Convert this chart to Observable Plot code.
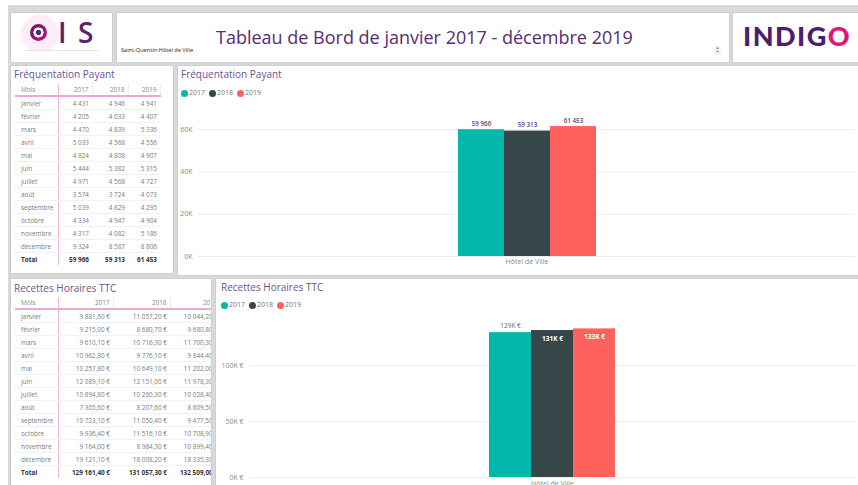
<!DOCTYPE html>
<html><head><meta charset="utf-8">
<script src="https://cdn.jsdelivr.net/npm/d3@7"></script>
<script src="https://cdn.jsdelivr.net/npm/@observablehq/plot@0.6"></script>
<style>
body{margin:0;width:858px;height:485px;overflow:hidden;background:#fff;font-family:"Open Sans",sans-serif;position:relative}
#bg{position:absolute;left:8px;top:5px;width:850px;height:480px;background:#d9d9d9}
.panel{position:absolute;background:#fff;border:1px solid #cfcfcf;box-sizing:border-box;overflow:hidden}
.ptitle{position:absolute;font-size:10px;line-height:14px;color:#6e5290;white-space:nowrap}
.legend{position:absolute;font-size:7px;line-height:10px;color:#777;white-space:nowrap;display:flex;align-items:center}
.legend span.dot{display:inline-block;width:7px;height:7px;border-radius:50%;margin-right:1px}
.legend span.lab{margin-right:4px}
table.t{border-collapse:collapse;position:absolute;font-size:6.4px;color:#7a7a7a;table-layout:fixed}
table.t td, table.t th{padding:0 3px;white-space:nowrap;overflow:hidden;font-weight:normal;text-align:right}
table.t th{height:11px;border-bottom:2px solid #eaa9d6;border-right:1px solid #ececec;color:#888}
table.t td{height:12px;border-bottom:1px solid #f1f1f1}
table.t .m{text-align:left;padding-left:6px;border-right:1px solid #efb4dd}
table.t tr.tot td{font-weight:bold;color:#333;border-bottom:none}
</style></head>
<body>
<div id="bg"></div>

<div class="panel" style="left:10px;top:12px;width:103px;height:51px">
  <div style="position:absolute;left:10px;top:1px;width:38px;height:42px;border-radius:50%;background:radial-gradient(circle at 50% 45%, rgba(230,0,126,0.07) 0 60%, rgba(255,255,255,0) 70%)"></div>
  <div style="position:absolute;left:13px;top:37px;width:75px;height:1px;background:#f6d9ea"></div>
  <div style="position:absolute;left:19px;top:11px;width:17px;height:17px;border-radius:50%;background:radial-gradient(circle, #5d2173 0 2.6px, #fff 2.9px 4.9px, rgba(0,0,0,0) 5.2px), linear-gradient(135deg,#5a1f73,#c4177d)"></div>
  <div style="position:absolute;left:47px;top:0px;font-size:28px;line-height:38px;font-weight:600;color:#5d2173;font-family:'Open Sans',sans-serif">I</div>
  <div style="position:absolute;left:67px;top:0px;font-size:28px;line-height:38px;font-weight:600;color:#5d2173;font-family:'Open Sans',sans-serif">S</div>
</div>

<div class="panel" style="left:116px;top:12px;width:614px;height:51px">
  <div style="position:absolute;left:4px;top:33px;font-size:5.6px;line-height:8px;color:#222">Saint-Quentin-Hôtel de Ville</div>
  <div id="maintitle" style="position:absolute;left:99px;top:12px;font-size:18px;line-height:25px;color:#5b2a72;white-space:nowrap">Tableau de Bord de janvier 2017 - décembre 2019</div>
  <div style="position:absolute;left:597px;top:33px;width:7px;height:9px;border-radius:2px;background:#f2f2f2;font-size:4px;line-height:4px;color:#888;text-align:center">▲<br>▼</div>
</div>

<div class="panel" style="left:732px;top:12px;width:130px;height:51px">
  <div style="position:absolute;left:10px;top:7px;font-size:27px;line-height:32px;font-weight:900;color:#4b1e6e;font-family:Lato,'Open Sans',sans-serif;letter-spacing:1.5px;white-space:nowrap">INDIG<span style="color:#e0157a">O</span></div>
</div>

<div class="panel" id="t1p" style="left:10px;top:65px;width:164px;height:209px">
  <div class="ptitle" style="left:3px;top:1px">Fréquentation Payant</div>
</div>

<div class="panel" id="c1p" style="left:177px;top:65px;width:685px;height:211px">
  <div class="ptitle" style="left:3px;top:1px">Fréquentation Payant</div>
  <div class="legend" id="leg1" style="left:3px;top:22px"></div>
  <div id="chart1" style="position:absolute;left:-1px;top:34px"></div>
</div>

<div class="panel" id="t2p" style="left:10px;top:278px;width:202px;height:212px">
  <div class="ptitle" style="left:3px;top:2px">Recettes Horaires TTC</div>
</div>

<div class="panel" id="c2p" style="left:215px;top:278px;width:647px;height:212px">
  <div class="ptitle" style="left:5px;top:1px">Recettes Horaires TTC</div>
  <div class="legend" id="leg2" style="left:5px;top:21px"></div>
  <div id="chart2" style="position:absolute;left:0px;top:33px"></div>
</div>

<script>
// ---------- data ----------
const years = ["2017", "2018", "2019"];
const colors = ["#01B8AA", "#374649", "#FD625E"];
const categories = ["Hôtel de Ville"];
const months = ["janvier","février","mars","avril","mai","juin","juillet","août","septembre","octobre","novembre","décembre"];

const freq2017 = [4431, 4205, 4470, 5033, 4824, 5444, 4971, 3574, 5039, 4334, 4317, 9324];
const freq2018 = [4946, 4033, 4839, 4568, 4808, 5382, 4568, 3724, 4829, 4947, 4082, 8587];
const freq2019 = [4941, 4407, 5336, 4556, 4907, 5315, 4727, 4073, 4295, 4904, 5186, 8806];
const freqTotals = [59966, 59313, 61453];

const rec2017 = [9881.60, 9215.00, 9610.10, 10962.80, 10257.80, 12089.10, 10894.80, 7305.60, 10723.10, 9936.40, 9164.00, 19121.10];
const rec2018 = [11057.20, 8680.70, 10716.30, 9776.10, 10649.10, 12151.00, 10260.30, 8207.60, 11050.40, 11516.10, 8984.30, 18008.20];
const rec2019 = [10044.20, 9680.80, 11700.30, 9844.40, 11202.00, 11978.30, 10028.40, 8609.50, 9477.50, 10708.90, 10899.40, 18335.30];
const recTotals = [129161.40, 131057.30, 132509.00];

const freqTicks = [0, 20000, 40000, 60000];
const recTicks = [0, 50000, 100000];

// ---------- formatting ----------
const fr = d3.formatLocale({decimal: ",", thousands: "\u00a0", grouping: [3], currency: ["", " €"]});
const fmtInt = fr.format(",d");
const fmt2 = fr.format(",.2f");
const fmtEur = v => fmt2(v) + "\u00a0€";

// ---------- tables ----------
function buildTable(parent, left, top, widths, cols, totals, fmt) {
  let h = `<table class="t" style="left:${left}px;top:${top}px;width:${d3.sum(widths)}px"><colgroup>` +
    widths.map(w => `<col style="width:${w}px">`).join("") + `</colgroup>`;
  h += `<tr><th class="m">Mois</th>` + years.map(y => `<th>${y}</th>`).join("") + `</tr>`;
  months.forEach((m, i) => {
    h += `<tr><td class="m">${m}</td>` + cols.map(c => `<td>${fmt(c[i])}</td>`).join("") + `</tr>`;
  });
  h += `<tr class="tot"><td class="m">Total</td>` + totals.map(t => `<td>${fmt(t)}</td>`).join("") + `</tr>`;
  h += `</table>`;
  document.getElementById(parent).insertAdjacentHTML("beforeend", h);
}
buildTable("t1p", 4, 18, [43, 34, 36, 32], [freq2017, freq2018, freq2019], freqTotals, fmtInt);
buildTable("t2p", 4, 18, [43, 55, 57, 51], [rec2017, rec2018, rec2019], recTotals, fmtEur);

// ---------- legends ----------
function buildLegend(id) {
  document.getElementById(id).innerHTML = years.map((y, i) =>
    `<span class="dot" style="background:${colors[i]}"></span><span class="lab">${y}</span>`).join("");
}
buildLegend("leg1");
buildLegend("leg2");

// ---------- charts ----------
const freqData = years.map((y, i) => ({lieu: categories[0], annee: y, valeur: freqTotals[i]}));
const recData = years.map((y, i) => ({lieu: categories[0], annee: y, valeur: recTotals[i]}));

const baseStyle = {fontFamily: '"Open Sans", sans-serif', fontSize: "7px", color: "#8a8a8a", background: "transparent", overflow: "visible"};

const chart1 = Plot.plot({
  width: 681, height: 172,
  marginLeft: 21, marginRight: 3, marginTop: 8, marginBottom: 16,
  style: baseStyle,
  fx: {domain: categories, padding: 0, label: null},
  x: {domain: years, paddingInner: 0, paddingOuter: 5.54, axis: null},
  y: {domain: [0, 70000], label: null},
  color: {domain: years, range: colors},
  marks: [
    Plot.gridY(freqTicks, {stroke: "#ececec", strokeOpacity: 1}),
    Plot.axisY(freqTicks, {tickSize: 0, tickPadding: 6, tickFormat: d => d / 1000 + "K", label: null}),
    Plot.axisFx({anchor: "bottom", tickSize: 0, tickPadding: 3, label: null}),
    Plot.barY(freqData, {fx: "lieu", x: "annee", y: "valeur", fill: "annee"}),
    Plot.text(freqData, {fx: "lieu", x: "annee", y: "valeur", text: d => fmtInt(d.valeur), dy: -6, fill: "#5a4a78", fontWeight: 600, fontSize: 6.3})
  ]
});
document.getElementById("chart1").append(chart1);

const recMax = 140000;
const chart2 = Plot.plot({
  width: 642, height: 180,
  marginLeft: 33, marginRight: 3, marginTop: 8, marginBottom: 15,
  style: baseStyle,
  fx: {domain: categories, padding: 0, label: null},
  x: {domain: years, paddingInner: 0, paddingOuter: 5.55, axis: null},
  y: {domain: [0, recMax], label: null},
  color: {domain: years, range: colors},
  marks: [
    Plot.gridY(recTicks, {stroke: "#ececec", strokeOpacity: 1}),
    Plot.axisY(recTicks, {tickSize: 0, tickPadding: 6, tickFormat: d => d / 1000 + "K €", label: null}),
    Plot.axisFx({anchor: "bottom", tickSize: 0, tickPadding: 4, label: null}),
    Plot.barY(recData, {fx: "lieu", x: "annee", y: "valeur", fill: "annee"}),
    Plot.text(recData.filter(d => d.valeur <= recMax - 10000), {fx: "lieu", x: "annee", y: "valeur", text: d => Math.round(d.valeur / 1000) + "K €", dy: -7, fill: "#666", fontSize: 6.5}),
    Plot.text(recData.filter(d => d.valeur > recMax - 10000), {fx: "lieu", x: "annee", y: "valeur", text: d => Math.round(d.valeur / 1000) + "K €", dy: 8, fill: "#fff", fontWeight: "bold", fontSize: 6.5})
  ]
});
document.getElementById("chart2").append(chart2);
</script>
</body></html>
